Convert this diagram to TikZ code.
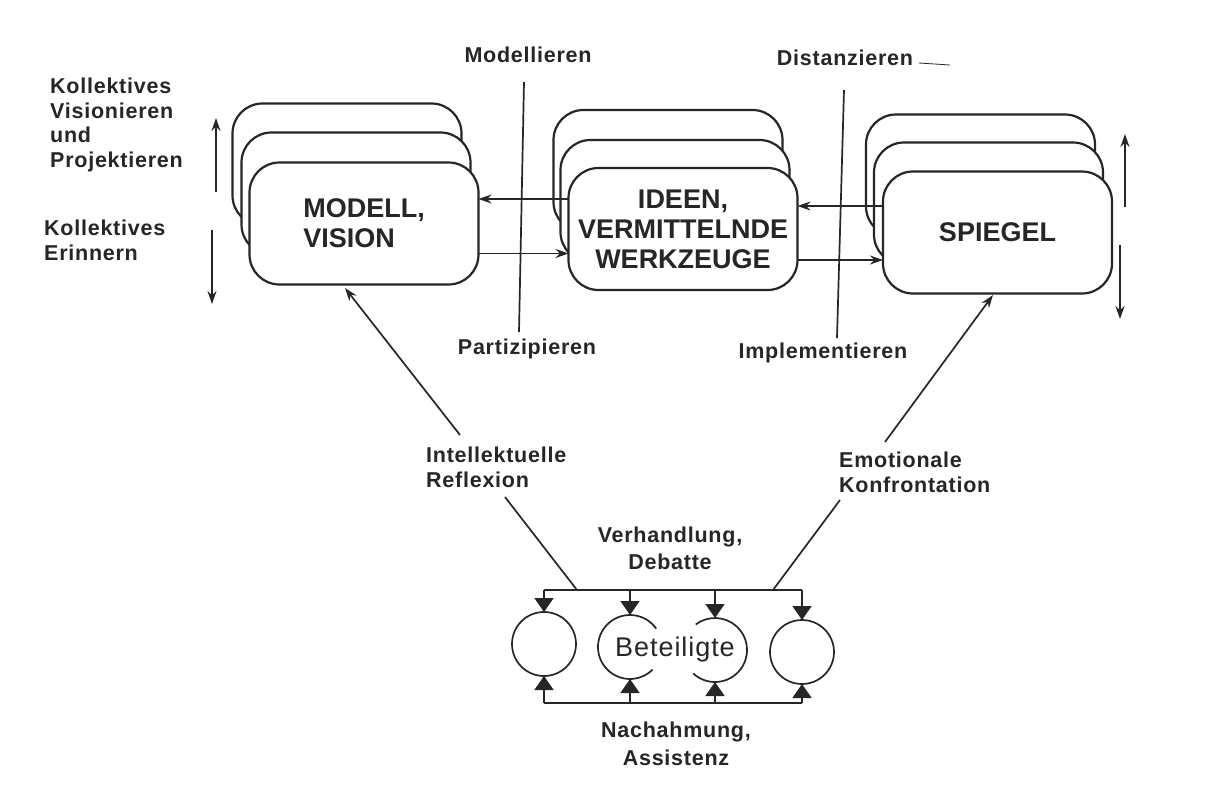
\documentclass[tikz,border=0pt]{standalone}
\usepackage{fontspec}
\setmainfont{Liberation Sans}
\newfontfamily\lblfont{Liberation Sans}[LetterSpace=3.5]
\usetikzlibrary{arrows.meta}
\definecolor{ink}{RGB}{38,38,38}
\begin{document}
\begin{tikzpicture}[x=1pt,y=-1pt,
  card/.style={draw=ink, line width=2.2pt, fill=white, rounded corners=30pt,
    minimum width=229pt, minimum height=122pt, inner sep=0pt, outer sep=0pt},
  cardtext/.style={font=\fontsize{27}{30}\selectfont\bfseries, text=ink},
  lbl/.style={font=\lblfont\bfseries\fontsize{21.5}{24.5}\selectfont, text=ink, inner sep=0pt},
  wire/.style={draw=ink, line width=1.7pt},
  arr/.style={wire, -{Stealth[length=13pt,width=9pt]}},
  bigarr/.style={wire, -{Triangle[length=14pt,width=19pt]}},
  person/.style={circle, minimum size=64pt, inner sep=0pt, outer sep=0pt},
]
\fill[white] (0,0) rectangle (1211,807);
\useasboundingbox (0,0) rectangle (1211,807);

% --- stacked cards: model / vision
\node[card] (m3) at (347,164.5) {};
\node[card] (m2) at (356,193.5) {};
\node[card, cardtext, align=left] (m1) at (364,223.5) {MODELL,\\VISION};

% --- stacked cards: ideas / mediating tools
\node[card] (i3) at (668,171) {};
\node[card] (i2) at (675,201) {};
\node[card, cardtext, align=center] (i1) at (683,229) {IDEEN,\\VERMITTELNDE\\WERKZEUGE};

% --- stacked cards: mirror
\node[card] (s3) at (980.5,175.5) {};
\node[card] (s2) at (988.5,203.5) {};
\node[card, cardtext, align=center] (s1) at (997.5,232.5) {SPIEGEL};

% --- horizontal exchanges between the cards
\coordinate (u12) at ([yshift=30pt]i1.west);
\coordinate (d12) at ([yshift=-30pt]m1.east);
\coordinate (u23) at ([yshift=26.5pt]s1.west);
\coordinate (d23) at ([yshift=-31pt]i1.east);
\draw[arr] (u12) -- (u12 -| m1.east);
\draw[arr] (d12) -- (d12 -| i1.west);
\draw[arr] (u23) -- (u23 -| i1.east);
\draw[arr] (d23) -- (d23 -| s1.west);

% --- vertical separators with their labels
\node[lbl] (lmod) at (528,55) {Modellieren};
\node[lbl] (lpart) at (527,349) {Partizipieren};
\node[lbl] (ldist) at (845,58) {Distanzieren};
\node[lbl] (limpl) at (823,353) {Implementieren};
\coordinate (mtop) at (524,82);
\coordinate (mbot) at (519,332);
\coordinate (dtop) at (844,90);
\coordinate (dbot) at (837,338);
\draw[wire] (mtop) -- (mbot);
\draw[wire] (dtop) -- (dbot);
\coordinate (pen1) at (919,63);
\coordinate (pen2) at (950,65);
\draw[draw=ink, line width=0.8pt] (pen1) -- (pen2);

% --- time axis on the left
\node[lbl, anchor=west, align=left] (lvis) at (50,125) {Kollektives\\Visionieren\\und\\Projektieren};
\node[lbl, anchor=west, align=left] (lerin) at (44,240.5) {Kollektives\\Erinnern};
\coordinate (lu0) at (216,192);
\coordinate (lu1) at (216,118);
\coordinate (ld0) at (212,230);
\coordinate (ld1) at (212,304);
\draw[arr] (lu0) -- (lu1);
\draw[arr] (ld0) -- (ld1);

% --- time axis on the right
\coordinate (ru0) at (1125,207);
\coordinate (ru1) at (1125,134);
\coordinate (rd0) at (1120,245);
\coordinate (rd1) at (1120,319);
\draw[arr] (ru0) -- (ru1);
\draw[arr] (rd0) -- (rd1);

% --- participants
\node[person, draw=ink, line width=1.7pt] (p1) at (544,644) {};
\node[person] (p2) at (630,647) {};
\node[person] (p3) at (715,650) {};
\node[person, draw=ink, line width=1.7pt] (p4) at (802,652) {};
\draw[wire] (p2.35) arc[start angle=35, end angle=315, radius=32pt];
\draw[wire] (p3.227) arc[start angle=227, end angle=487, radius=32pt];
\node[font=\lblfont\fontsize{27}{30}\selectfont, text=ink, inner sep=0pt] (lbet) at (675,650) {Beteiligte};

% --- negotiation bar above, imitation bar below
\coordinate (tbar) at (0,590);
\coordinate (bbar) at (0,703);
\draw[wire] (p1.north |- tbar) -- (p4.north |- tbar);
\draw[wire] (p1.south |- bbar) -- (p4.south |- bbar);
\foreach \p in {p1,p2,p3,p4}{
  \draw[bigarr] (\p.north |- tbar) -- (\p.north);
  \draw[bigarr] (\p.south |- bbar) -- (\p.south);
}
\node[lbl, align=center, font=\lblfont\bfseries\fontsize{21.5}{27}\selectfont] (lverh) at (670,548) {Verhandlung,\\Debatte};
\node[lbl, align=center, font=\lblfont\bfseries\fontsize{21.5}{28}\selectfont] (lnach) at (676,744) {Nachahmung,\\Assistenz};

% --- reflection and confrontation paths
\node[lbl, anchor=west, align=left] (lint) at (426,467.5) {Intellektuelle\\Reflexion};
\node[lbl, anchor=west, align=left] (lemo) at (839,472.5) {Emotionale\\Konfrontation};
\coordinate (ia) at (460,435);
\coordinate (ib) at (345,288);
\coordinate (ic) at (505,497);
\coordinate (id) at (577,590);
\coordinate (ea) at (885,442);
\coordinate (eb) at (993,295);
\coordinate (ec) at (840,500);
\coordinate (ed) at (773,590);
\draw[arr] (ia) -- (ib);
\draw[wire] (ic) -- (id);
\draw[arr] (ea) -- (eb);
\draw[wire] (ec) -- (ed);
\end{tikzpicture}
\end{document}
